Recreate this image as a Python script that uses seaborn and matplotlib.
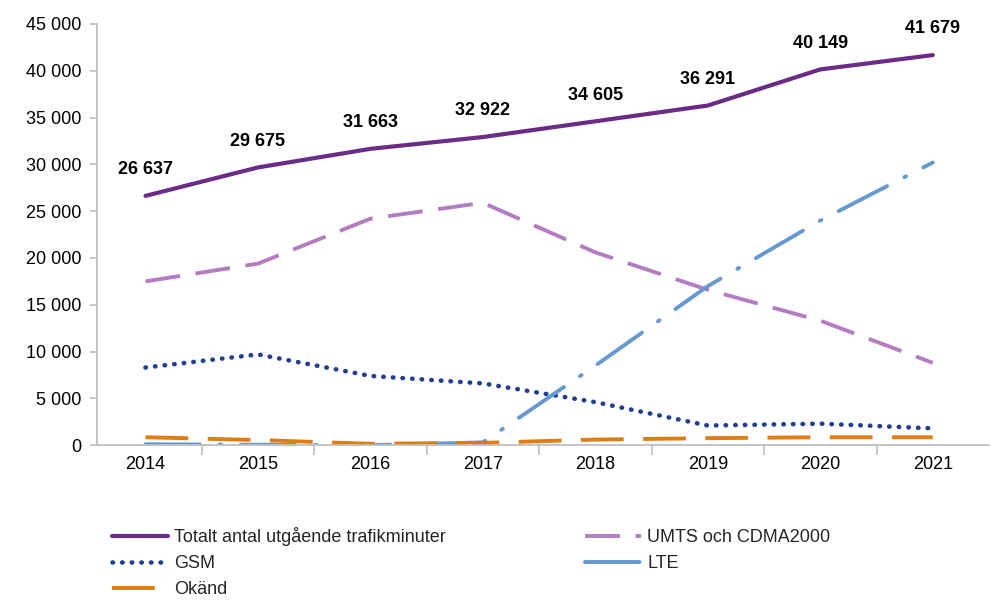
import matplotlib
matplotlib.use("Agg")
import matplotlib.pyplot as plt
import seaborn as sns
import pandas as pd
import numpy as np

years = ["2014", "2015", "2016", "2017", "2018", "2019", "2020", "2021"]
totalt = [26637, 29675, 31663, 32922, 34605, 36291, 40149, 41679]
umts = [17500, 19400, 24200, 25900, 20600, 16600, 13300, 8800]
gsm = [8300, 9700, 7400, 6600, 4600, 2100, 2300, 1800]
lte = [100, 50, 0, 300, 8500, 17000, 24000, 30200]
okand = [850, 550, 150, 250, 600, 750, 850, 850]

labels = ["Totalt antal utgående trafikminuter", "UMTS och CDMA2000", "GSM", "LTE", "Okänd"]
colors = ["#6B2C86", "#B57CC4", "#1F3F8F", "#6699CF", "#E07D10"]

sns.set_theme(style="white")
plt.rcParams['font.family'] = ['Liberation Sans', 'DejaVu Sans']

fig = plt.figure(figsize=(9.91, 6.0), dpi=100)
ax = fig.add_axes([0.098, 0.258, 0.9, 0.702])

x = np.arange(len(years))
series = [totalt, umts, gsm, lte, okand]
styles = [
    dict(linestyle="-"),
    dict(dashes=(9, 4)),
    dict(linestyle=(0, (0.1, 2.0)), dash_capstyle="round"),
    dict(dashes=(14, 5, 0.5, 5), dash_capstyle="round"),
    dict(dashes=(11, 5)),
]
lines = {}
for s, lab, c, st in zip(series, labels, colors, styles):
    df = pd.DataFrame({"x": x, "y": s})
    sns.lineplot(data=df, x="x", y="y", ax=ax, color=c, linewidth=2.8,
                 label=lab, legend=False, **st)
    lines[lab] = ax.lines[-1]

lines["Totalt antal utgående trafikminuter"].set_linewidth(3.0)
lines["GSM"].set_linewidth(3.3)

for xi, v in zip(x, totalt):
    ax.text(xi, v + 1900, f"{v:,}".replace(",", " "), ha="center", va="bottom",
            fontsize=13, fontweight="bold", color="black")

ax.set_xlim(-0.43, 7.5)
ax.set_ylim(0, 45000)
ax.set_yticks(np.arange(0, 45001, 5000))
ax.set_yticklabels([f"{v:,}".replace(",", " ") for v in range(0, 45001, 5000)], fontsize=13)
ax.set_xticks(x)
ax.set_xticklabels(years, fontsize=13)
ax.set_xlabel("")
ax.set_ylabel("")
for side in ["top", "right"]:
    ax.spines[side].set_visible(False)
for side in ["left", "bottom"]:
    ax.spines[side].set_color("#BFBFBF")
    ax.spines[side].set_linewidth(1.3)
ax.tick_params(axis="y", length=5, color="#BFBFBF", width=1.2, left=True, pad=6, labelcolor="black")
ax.tick_params(axis="x", length=0, pad=8, labelcolor="black")
ax.set_xticks(np.arange(0.5, 7.5, 1), minor=True)
ax.tick_params(axis="x", which="minor", length=7, color="#BFBFBF", width=1.2, bottom=True)

order = ["Totalt antal utgående trafikminuter", "GSM", "Okänd", "UMTS och CDMA2000", "LTE"]
fig.legend([lines[k] for k in order], order, ncol=2, loc="upper left",
           bbox_to_anchor=(0.1, 0.143), frameon=False, fontsize=13,
           handlelength=3.1, columnspacing=7.7, labelspacing=0.5, handletextpad=0.35,
           borderaxespad=0.3)

fig.savefig("out.png", dpi=100)
